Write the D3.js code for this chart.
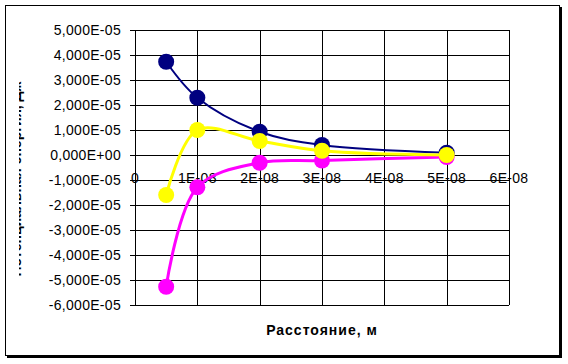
<!DOCTYPE html>
<html lang="ru">
<head>
<meta charset="utf-8">
<script src="https://cdn.jsdelivr.net/npm/d3@7"></script>
<style>
  body { margin: 0; background: #fff; }
  text { font-family: "Liberation Sans", Arial, sans-serif; }
</style>
</head>
<body>
<script>
var w = 568, h = 364;

// distances, m
var xValues = [0.5e-8, 1e-8, 2e-8, 3e-8, 5e-8];
var navyValues = [3.73e-5, 2.29e-5, 0.93e-5, 0.40e-5, 0.09e-5];
var magentaValues = [-5.27e-5, -1.29e-5, -0.31e-5, -0.22e-5, -0.08e-5];
var yellowValues = [-1.60e-5, 1.00e-5, 0.56e-5, 0.17e-5, 0.0];
var xTicks = [0, 1e-8, 2e-8, 3e-8, 4e-8, 5e-8, 6e-8];
var xTickLabels = ["0", "1E-08", "2E-08", "3E-08", "4E-08", "5E-08", "6E-08"];
var yTicks = [5e-5, 4e-5, 3e-5, 2e-5, 1e-5, 0, -1e-5, -2e-5, -3e-5, -4e-5, -5e-5, -6e-5];
var yTickLabels = ["5,000E-05", "4,000E-05", "3,000E-05", "2,000E-05", "1,000E-05", "0,000E+00",
                   "-1,000E-05", "-2,000E-05", "-3,000E-05", "-4,000E-05", "-5,000E-05", "-6,000E-05"];

var plotLeft = 135, plotRight = 509, plotTop = 30, plotBottom = 305;

var svg = d3.select("body").append("svg").attr("width", w).attr("height", h);

// chart area border with a little shadow on right/bottom
svg.append("rect").attr("x", 7).attr("y", 7).attr("width", 555).attr("height", 351).attr("fill", "#000");
svg.append("rect").attr("x", 5.5).attr("y", 5.5).attr("width", 554).attr("height", 350)
   .attr("fill", "#fff").attr("stroke", "#000").attr("stroke-width", 1);

var x = d3.scaleLinear().domain([0, 6e-8]).range([plotLeft, plotRight]);
var y = d3.scaleLinear().domain([-6e-5, 5e-5]).range([plotBottom, plotTop]);

// horizontal gridlines + y ticks
svg.append("g").selectAll("line").data(yTicks).enter().append("line")
   .attr("x1", plotLeft - 5).attr("x2", plotRight)
   .attr("y1", function(d) { return Math.round(y(d)) + 0.5; })
   .attr("y2", function(d) { return Math.round(y(d)) + 0.5; })
   .attr("stroke", "#000");

// vertical gridlines
svg.append("g").selectAll("line").data(xTicks).enter().append("line")
   .attr("x1", function(d) { return Math.round(x(d)) + 0.5; })
   .attr("x2", function(d) { return Math.round(x(d)) + 0.5; })
   .attr("y1", plotTop).attr("y2", plotBottom)
   .attr("stroke", "#000");

// y tick labels
svg.append("g").selectAll("text").data(yTicks).enter().append("text")
   .attr("x", 121).attr("y", function(d) { return y(d) + 5; })
   .attr("text-anchor", "end").attr("font-size", "14px").attr("letter-spacing", "0.3px")
   .text(function(d, i) { return yTickLabels[i]; });

// x tick labels sit just under the zero line
svg.append("g").selectAll("text").data(xTicks).enter().append("text")
   .attr("x", function(d) { return x(d); }).attr("y", y(0) + 28)
   .attr("text-anchor", "middle").attr("font-size", "14px").attr("letter-spacing", "0.3px")
   .text(function(d, i) { return xTickLabels[i]; });

var line = d3.line().curve(d3.curveCatmullRom.alpha(0.5))
   .x(function(d) { return x(d[0]); }).y(function(d) { return y(d[1]); });

function series(vals, color, width) {
    var pts = xValues.map(function(v, i) { return [v, vals[i]]; });
    svg.append("path").datum(pts).attr("d", line)
       .attr("fill", "none").attr("stroke", color).attr("stroke-width", width);
    svg.append("g").selectAll("circle").data(pts).enter().append("circle")
       .attr("cx", function(d) { return x(d[0]); })
       .attr("cy", function(d) { return y(d[1]); })
       .attr("r", 8).attr("fill", color);
}
series(navyValues, "#000080", 2);
series(magentaValues, "#ff00ff", 3);
series(yellowValues, "#ffff00", 3);

// axis titles
svg.append("text").attr("x", 322).attr("y", 335).attr("text-anchor", "middle")
   .attr("font-size", "14px").attr("font-weight", "bold").attr("letter-spacing", "1px")
   .text("Расстояние, м");

// the y title is mostly cut off in the original, only a sliver shows
svg.append("clipPath").attr("id", "ytitle-clip").append("rect")
   .attr("x", 19).attr("y", 0).attr("width", 20).attr("height", h);
svg.append("g").attr("clip-path", "url(#ytitle-clip)")
   .append("text").attr("transform", "translate(21,179) rotate(-90)")
   .attr("text-anchor", "middle").attr("font-size", "14px").attr("font-weight", "bold")
   .text("Потенциальная энергия, Дж");
</script>
</body>
</html>
